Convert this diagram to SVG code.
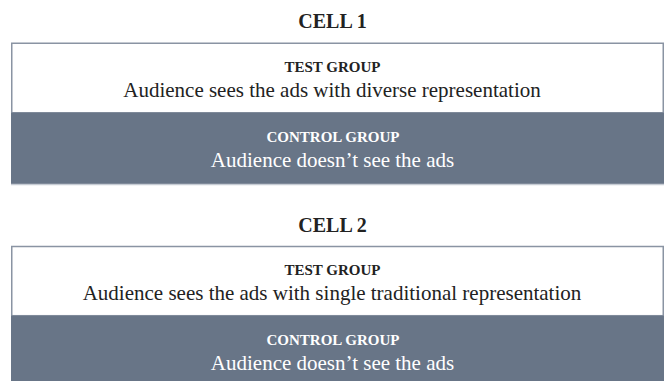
<svg xmlns="http://www.w3.org/2000/svg" width="665" height="381" viewBox="0 0 665 381">
<style>
.title{font-family:"Liberation Serif","Times New Roman",serif;font-weight:bold;font-size:20px;fill:#222222;text-anchor:middle}
.lbl{font-family:"Liberation Serif","Times New Roman",serif;font-weight:bold;font-size:15px;text-anchor:middle}
.txt{font-family:"Liberation Serif","Times New Roman",serif;font-size:21px;text-anchor:middle}
.dark{fill:#222222}
.light{fill:#ffffff}
.testbox{fill:#ffffff;stroke:#8a94a3;stroke-width:1.5}
.ctrlbox{fill:#687587}
.edge{stroke:#c6ccd4;stroke-width:1.5}
</style>
<rect width="665" height="381" fill="#ffffff"/>
<g id="cell1">
  <text class="title" x="332.5" y="28.3">CELL 1</text>
  <g id="cell1-test">
    <rect class="testbox" x="11.75" y="43.25" width="651.5" height="69.5"/>
    <text class="lbl dark" x="332.5" y="71.7">TEST GROUP</text>
    <text class="txt dark" x="332" y="96.7">Audience sees the ads with diverse representation</text>
  </g>
  <g id="cell1-control">
    <rect class="ctrlbox" x="11" y="112.7" width="653" height="71.3"/>
    <line class="edge" x1="11" y1="184.5" x2="664" y2="184.5"/>
    <text class="lbl light" x="333" y="141.7">CONTROL GROUP</text>
    <text class="txt light" x="332.5" y="166.7">Audience doesn’t see the ads</text>
  </g>
</g>
<g id="cell2">
  <text class="title" x="332.5" y="231.6">CELL 2</text>
  <g id="cell2-test">
    <rect class="testbox" x="11.75" y="246.5" width="651.5" height="69.2"/>
    <text class="lbl dark" x="332.5" y="275">TEST GROUP</text>
    <text class="txt dark" x="332" y="300">Audience sees the ads with single traditional representation</text>
  </g>
  <g id="cell2-control">
    <rect class="ctrlbox" x="11" y="315.7" width="653" height="65.3"/>
    <text class="lbl light" x="333" y="344.7">CONTROL GROUP</text>
    <text class="txt light" x="332.5" y="369.7">Audience doesn’t see the ads</text>
  </g>
</g>
<g id="connectors"/>
</svg>
